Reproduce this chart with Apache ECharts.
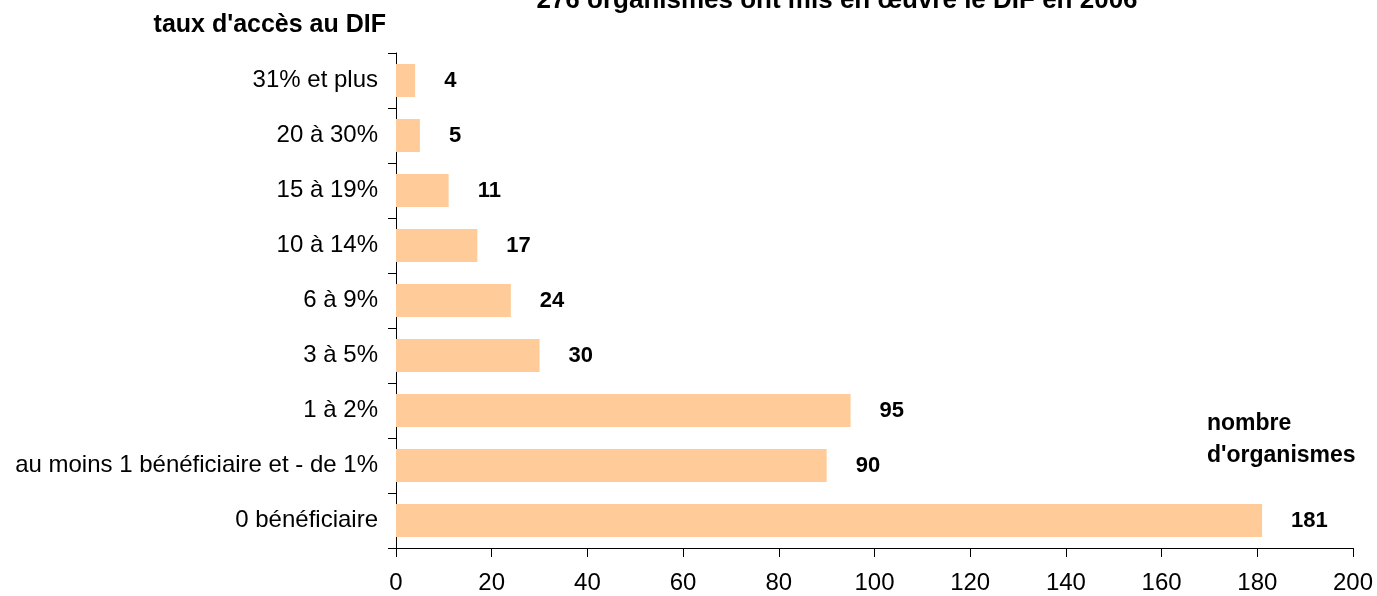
<!DOCTYPE html>
<html lang="fr">
<head>
    <meta charset="UTF-8">
    <title>DIF</title>
    <script src="https://cdn.jsdelivr.net/npm/echarts@6/dist/echarts.min.js"></script>
    <style>
        html, body { margin: 0; padding: 0; background: #fff; }
        #chart { width: 1377px; height: 596px; }
    </style>
</head>
<body>
<div id="chart"></div>
<script>
    // categories from bottom to top
    var categories = ['0 bénéficiaire', 'au moins 1 bénéficiaire et - de 1%', '1 à 2%', '3 à 5%',
        '6 à 9%', '10 à 14%', '15 à 19%', '20 à 30%', '31% et plus'];
    var values = [181, 90, 95, 30, 24, 17, 11, 5, 4];
    var xTicks = [0, 20, 40, 60, 80, 100, 120, 140, 160, 180, 200];

    var chart = echarts.init(document.getElementById('chart'));
    var font = 'Arial, "Liberation Sans", sans-serif';

    var option = {
        animation: false,
        textStyle: { fontFamily: font },
        title: [{
            text: "276 organismes ont mis en œuvre le DIF en 2006",
            left: 832, top: -17, textAlign: 'center',
            textStyle: { fontSize: 26, fontWeight: 'bold', color: '#000', fontFamily: font }
        }, {
            text: "taux d'accès au DIF",
            left: 381, top: 8, textAlign: 'right',
            textStyle: { fontSize: 25, fontWeight: 'bold', color: '#000', fontFamily: font }
        }, {
            text: "nombre\nd'organismes",
            left: 1202, top: 403,
            textStyle: { fontSize: 23, fontWeight: 'bold', color: '#000', fontFamily: font, lineHeight: 32 }
        }],
        grid: { left: 396, right: 24, top: 53, bottom: 48, containLabel: false },
        xAxis: {
            type: 'value',
            min: xTicks[0], max: xTicks[xTicks.length - 1], interval: 20,
            axisLine: { show: true, lineStyle: { color: '#000', width: 1 } },
            axisTick: { show: true, length: 9, lineStyle: { color: '#000' } },
            axisLabel: { fontSize: 24, color: '#000', margin: 23, fontFamily: font },
            splitLine: { show: false }
        },
        yAxis: {
            type: 'category',
            data: categories,
            axisLine: { show: true, lineStyle: { color: '#000', width: 1 } },
            axisTick: { show: true, length: 8, alignWithLabel: false, lineStyle: { color: '#000' } },
            axisLabel: { fontSize: 24, color: '#000', margin: 18, fontFamily: font }
        },
        series: [{
            type: 'bar',
            data: values,
            barWidth: '60%',
            itemStyle: { color: '#FFCC99' },
            label: {
                show: true, position: 'right', distance: 29,
                fontSize: 22, fontWeight: 'bold', color: '#000', fontFamily: font
            }
        }]
    };
    chart.setOption(option);
</script>
</body>
</html>
